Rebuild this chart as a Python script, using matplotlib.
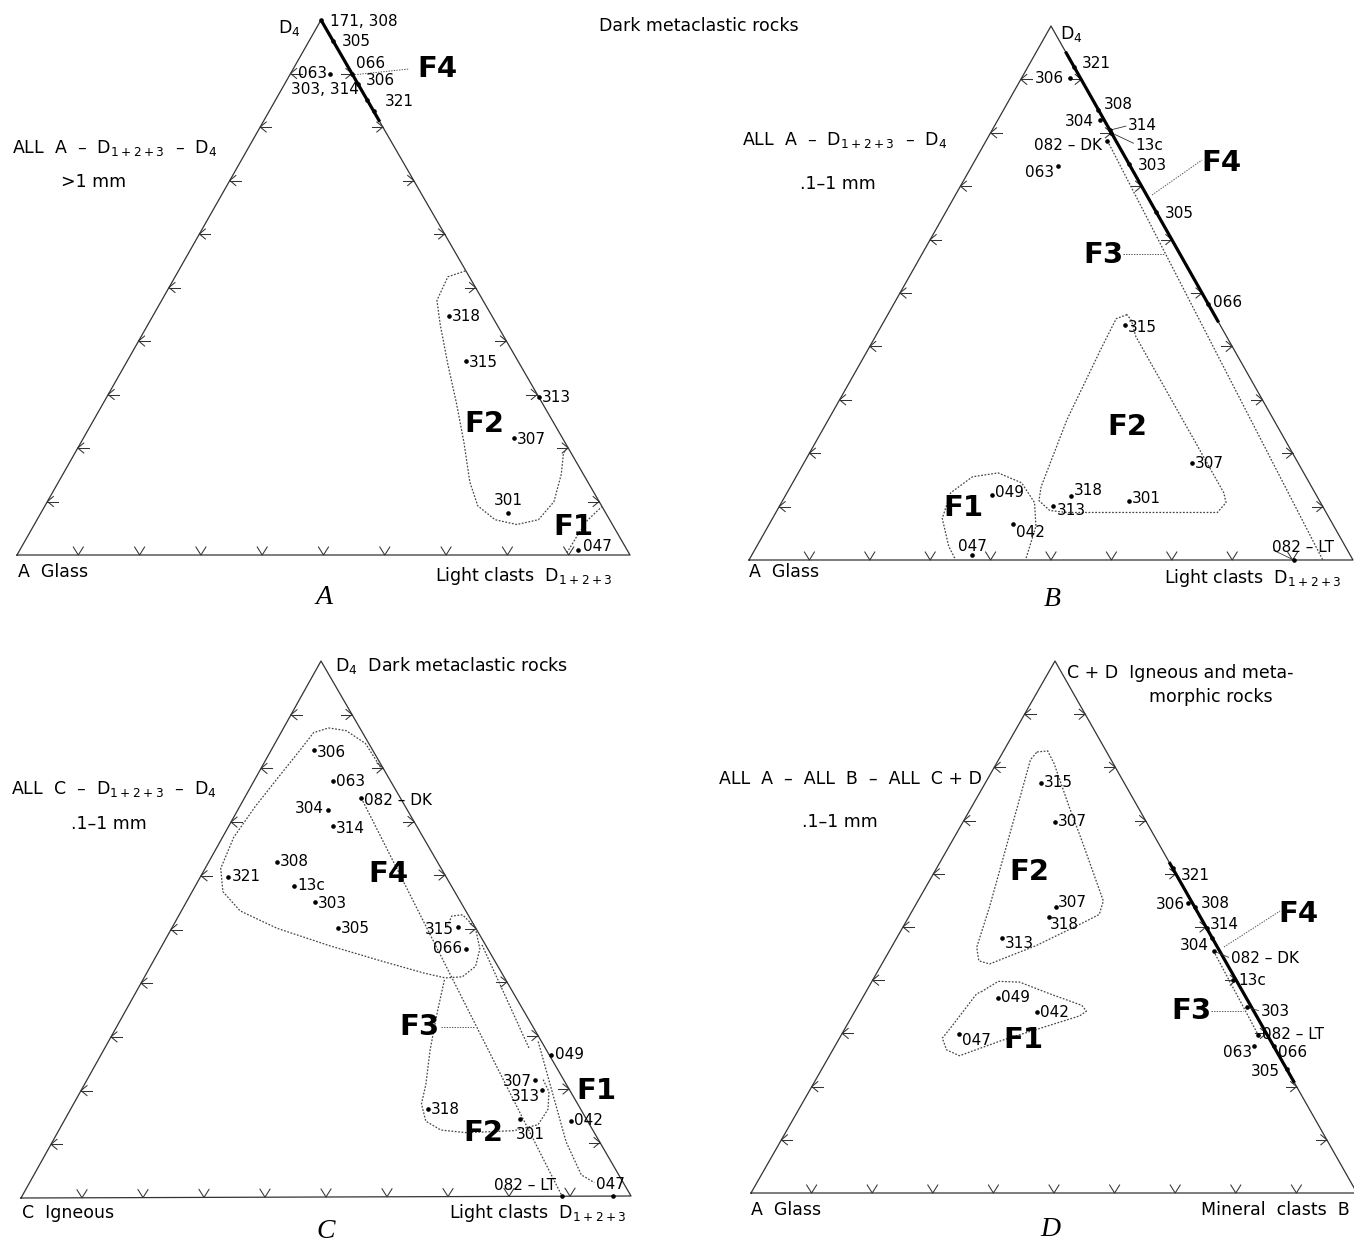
import numpy as np
import matplotlib.pyplot as plt

plt.rcParams['font.family'] = ['DejaVu Sans']
plt.rcParams['mathtext.fontset'] = 'dejavusans'

# ---------------- data: compositions in percent ----------------
# each point: share of the right-hand corner and of the top corner (rest = left corner)

# A  ALL A - D1+2+3 - D4, >1 mm
a_names = ['171, 308', '305', '066', '306', '303, 314', '321', '063',
           '318', '315', '313', '307', '301', '047']
a_right = [0, 4, 10, 12, 15, 17, 6.5, 48.3, 55.3, 70.5, 70.2, 76.2, 91]
a_top = [100, 96, 90, 88, 85, 83, 90, 44.7, 36.2, 29.5, 21.8, 7.8, 1]
a_f4_right = [0, 19]
a_f4_top = [100, 81]
a_f2_right = [46.8, 44.5, 44.9, 47.6, 52.5, 57.6, 62.5, 67.1, 70.6, 74.7, 78.7,
              81.8, 82.65, 81.3, 79.8, 79.7]
a_f2_top = [53.1, 52.0, 47.6, 43.2, 35.8, 28.4, 21.0, 13.65, 9.2, 6.6, 5.7,
            6.6, 9.96, 15.1, 18.8, 19.9]
a_f1_right = [89.5, 89.6, 89.8, 90.9]
a_f1_top = [0.4, 3.6, 6.4, 9.0]

# B  ALL A - D1+2+3 - D4, .1-1 mm
b_names = ['321', '306', '308', '304', '314', '13c', '082 – DK', '063', '303', '305',
           '066', '315', '307', '318', '301', '313', '049', '042', '047', '082 – LT']
b_right = [7.6, 8.05, 15.7, 16.9, 19.5, 20.0, 20.1, 14.3, 25.8, 34.8,
           52.0, 40.3, 64.2, 47.4, 57.4, 45.3, 34.1, 40.4, 36.5, 90.2]
b_top = [92.4, 90.2, 84.3, 82.4, 80.5, 80.0, 78.5, 73.75, 74.2, 65.2,
         48.0, 44.0, 18.2, 11.9, 11.1, 10.2, 12.2, 6.7, 1.0, 0.0]
b_f4_right = [4.8, 55.5]
b_f4_top = [95.2, 44.5]
b_f3_right = [20.1, 95.0]
b_f3_top = [78.5, 0.0]
b_f2_right = [39.6, 38.2, 38.5, 39.5, 41.5, 42.45, 45.15, 48.2, 73.1, 73.6, 72.3,
              63.06, 43.1, 40.9, 39.6]
b_f2_top = [45.95, 45.2, 39.66, 26.31, 13.73, 11.12, 9.27, 8.9, 8.9, 10.75, 12.6,
            21.87, 41.87, 44.85, 45.95]
b_f1_right = [45.7, 44.35, 41.9, 37.9, 33.1, 29.2, 27.1, 28.1, 31.76, 34.0]
b_f1_top = [0.37, 6.31, 10.75, 14.46, 16.31, 15.58, 12.6, 7.79, 2.6, 0.22]

# C  ALL C - D1+2+3 - D4, .1-1 mm
c_names = ['306', '063', '082 – DK', '304', '314', '308', '321', '13c', '303', '305',
           '315', '066', '049', '307', '313', '301', '318', '042', '082 – LT', '047']
c_right = [7.0, 13.0, 19.2, 14.9, 17.1, 11.2, 4.6, 16.2, 21.1, 27.2,
           46.9, 50.2, 73.9, 73.6, 75.7, 74.8, 58.7, 83.2, 88.7, 97.0]
c_top = [83.4, 77.6, 74.4, 72.2, 69.3, 62.5, 59.8, 58.1, 55.0, 50.2,
         50.2, 46.2, 26.4, 21.7, 19.9, 14.4, 16.3, 14.1, 0.0, 0.0]
c_f4_right = [19.53, 14.85, 10.5, 7.4, 5.36, 4.66, 3.59, 2.55, 1.84, 2.56, 5.04, 9.65,
              17.26, 27.36, 37.28, 45.5, 49.5, 52.2, 53.4, 52.5, 49.8, 46.54, 44.88, 45.06]
c_f4_top = [80.14, 84.6, 87.0, 87.5, 86.64, 83.0, 78.0, 72.9, 67.15, 61.37, 57.04, 53.43,
            50.18, 46.93, 44.04, 41.73, 40.8, 41.0, 42.96, 46.2, 50.18, 52.56, 52.35, 50.54]
c_f3_right = [19.2, 88.7]
c_f3_top = [74.4, 0.0]
c_f2_right = [49.53, 51.24, 53.58, 56.07, 57.13, 59.44, 62.73, 67.23, 74.84, 78.2,
              78.41, 76.96, 74.66]
c_f2_top = [40.43, 34.66, 27.44, 20.94, 17.33, 14.08, 12.42, 11.91, 12.27, 13.36,
            16.25, 19.5, 22.02]
c_f1a_right = [52.5, 69.87]
c_f1a_top = [46.93, 27.44]
c_f1b_right = [70.58, 78.02, 84.4, 89.9, 92.74]
c_f1b_top = [28.88, 18.77, 10.11, 3.97, 2.53]

# D  ALL A - ALL B - ALL C+D, .1-1 mm
d_names = ['315', '307', '307', '318', '313', '049', '042', '047', '321', '306',
           '308', '314', '304', '082 – DK', '13c', '303', '082 – LT', '063', '066', '305']
d_right = [9.1, 15.2, 23.4, 23.2, 17.3, 22.4, 30.1, 19.3, 39.0, 44.7,
           46.2, 50.2, 52.0, 53.5, 59.4, 64.4, 68.8, 69.1, 72.4, 76.7]
d_top = [77.1, 69.8, 53.8, 51.8, 48.0, 36.7, 34.0, 29.8, 61.0, 54.5,
         53.8, 49.8, 48.0, 45.5, 40.0, 34.9, 29.7, 27.6, 27.6, 23.3]
d_f4_right = [37.8, 79.3]
d_f4_top = [62.2, 20.7]
d_f3_right = [53.5, 68.8]
d_f3_top = [45.5, 29.7]
d_f2_right = [5.6, 7.27, 9.54, 16.0, 21.4, 30.6, 31.2, 29.43, 23.8, 17.77, 15.7,
              14.08, 12.38, 7.88, 5.26, 5.6]
d_f2_top = [82.9, 83.1, 80.7, 72.7, 66.2, 54.9, 52.36, 50.9, 46.55, 43.05, 43.64,
            46.18, 53.8, 71.27, 81.45, 82.9]
d_f1_right = [19.0, 20.84, 24.45, 30.5, 36.9, 38.2, 37.55, 32.9, 27.1, 21.46, 18.78,
              16.97, 17.47, 18.45, 19.0]
d_f1_top = [37.8, 39.78, 39.64, 37.45, 35.27, 34.18, 33.3, 31.27, 28.73, 25.8, 26.9,
            29.1, 31.64, 37.45, 37.8]

# ---------------- layout ----------------
W, H = 1354, 1247
# left, right, top corner of every triangle on the page (px)
CORNERS = {
    'A': ((17, 555), (630, 555), (321, 20)),
    'B': ((749, 560), (1353, 560), (1051, 26)),
    'C': ((21, 1198), (631, 1196), (321, 661)),
    'D': ((751, 1193), (1357, 1193), (1055, 661)),
}
# label offsets (dx, dy, ha) for each point
a_off = [(9, 1, 'left'), (8, 0, 'left'), (4, -10, 'left'), (8, -4, 'left'),
         (-8, -11, 'right'), (11, -9, 'left'), (-3, 0, 'right'), (3, 1, 'left'),
         (3, 1, 'left'), (3, 0, 'left'), (3, 1, 'left'), (0, -13, 'center'), (5, -3, 'left')]
b_off = [(8, -3, 'left'), (-6, 0, 'right'), (5, -5, 'left'), (-6, 2, 'right'),
         (18, -5, 'left'), (24, 13, 'left'), (-5, 5, 'right'), (-4, 6, 'right'),
         (9, 2, 'left'), (9, 2, 'left'), (5, -1, 'left'), (3, 2, 'left'), (3, 1, 'left'),
         (3, -6, 'left'), (3, -2, 'left'), (3, 5, 'left'), (3, -2, 'left'), (3, 8, 'left'),
         (0, -8, 'center'), (-22, -12, 'left')]
c_off = [(3, 2, 'left'), (3, 0, 'left'), (3, 2, 'left'), (-5, -1, 'right'), (3, 3, 'left'),
         (3, -1, 'left'), (3, 0, 'left'), (3, 0, 'left'), (3, 1, 'left'), (3, 1, 'left'),
         (-4, 2, 'right'), (-4, 0, 'right'), (4, 0, 'left'), (-3, 2, 'right'),
         (-3, 7, 'right'), (10, 15, 'center'), (3, 0, 'left'), (3, 0, 'left'),
         (-6, -11, 'right'), (-2, -12, 'center')]
d_off = [(3, 0, 'left'), (3, 0, 'left'), (1, -4, 'left'), (1, 7, 'left'), (3, 6, 'left'),
         (3, 0, 'left'), (3, 0, 'left'), (3, 6, 'left'), (8, 7, 'left'), (-3, 1, 'right'),
         (6, -3, 'left'), (3, -4, 'left'), (-3, 8, 'right'), (17, 8, 'left'), (6, 0, 'left'),
         (13, 4, 'left'), (4, 0, 'left'), (-2, 6, 'right'), (4, 6, 'left'), (-7, 2, 'right')]

LINE = '#333333'
DOT = (0, (1.4, 1.3))
FS = 12.5      # captions
FN = 11        # point labels


def to_xy(p, right, top):
    (lx, ly), (rx, ry), (tx, ty) = CORNERS[p]
    b = np.asarray(right, float) / 100
    c = np.asarray(top, float) / 100
    a = 1 - b - c
    return a * lx + b * rx + c * tx, a * ly + b * ry + c * ty


def frame(ax, p):
    L, R, T = [np.array(v, float) for v in CORNERS[p]]
    ax.plot([L[0], R[0], T[0], L[0]], [L[1], R[1], T[1], L[1]], color=LINE, lw=0.9)
    kw = dict(color=LINE, lw=0.75)
    for k in range(1, 10):
        f = k / 10
        q = L + f * (R - L)
        ax.plot([q[0] - 5, q[0], q[0] + 5], [q[1] - 8, q[1], q[1] - 8], **kw)
        q = L + f * (T - L)
        ax.plot([q[0] + 6, q[0], q[0] + 6], [q[1] - 5, q[1], q[1] + 5], **kw)
        ax.plot([q[0], q[0] + 11], [q[1], q[1]], **kw)
        q = R + f * (T - R)
        ax.plot([q[0] - 6, q[0], q[0] - 6], [q[1] - 5, q[1], q[1] + 5], **kw)
        ax.plot([q[0] - 11, q[0]], [q[1], q[1]], **kw)


def points(ax, p, names, right, top, offs):
    x, y = to_xy(p, right, top)
    ax.plot(x, y, 'o', ms=2.3, color='k', zorder=5)
    for n, xi, yi, (dx, dy, ha) in zip(names, x, y, offs):
        ax.text(xi + dx, yi + dy, n, ha=ha, va='center', fontsize=FN)
        if abs(dx) > 12:
            ax.plot([xi, xi + dx - 2 * np.sign(dx)], [yi, yi + dy * 0.8], color=LINE, lw=0.6)


def outline(ax, p, right, top, thick=False):
    x, y = to_xy(p, right, top)
    if thick:
        ax.plot(x, y, color='k', lw=2.3, solid_capstyle='butt')
    else:
        ax.plot(x, y, color='#444444', lw=0.9, ls=DOT)


def flabel(ax, x, y, s):
    ax.text(x, y, s, ha='center', va='center', fontsize=21, fontweight='bold')


def leader(ax, x0, y0, x1, y1):
    ax.plot([x0, x1], [y0, y1], color='#555555', lw=0.7, ls=DOT)


def letter(ax, x, y, s):
    ax.text(x, y, s, ha='center', va='center', fontsize=20, style='italic',
            family='Liberation Serif')


def caption(ax, x, y, s, **kw):
    ax.text(x, y, s, va='center', fontsize=FS, **kw)


fig = plt.figure(figsize=(W / 100, H / 100), dpi=100)
ax = fig.add_axes([0, 0, 1, 1])
ax.set_xlim(0, W)
ax.set_ylim(H, 0)
ax.axis('off')

D123 = r'D$_{1+2+3}$'
D4 = r'D$_4$'

# ---- A ----
frame(ax, 'A')
outline(ax, 'A', a_f4_right, a_f4_top, thick=True)
outline(ax, 'A', a_f2_right, a_f2_top)
outline(ax, 'A', a_f1_right, a_f1_top)
points(ax, 'A', a_names, a_right, a_top, a_off)
caption(ax, 289, 28, D4, ha='center')
caption(ax, 699, 26, 'Dark metaclastic rocks', ha='center')
caption(ax, 12, 148, 'ALL  A  –  ' + D123 + '  –  ' + D4)
caption(ax, 61, 182, '>1 mm')
caption(ax, 18, 572, 'A  Glass')
caption(ax, 435, 576, 'Light clasts  ' + D123)
letter(ax, 324, 598, 'A')
leader(ax, 352, 75, 409, 69)
flabel(ax, 437, 69, 'F4')
flabel(ax, 484, 424, 'F2')
flabel(ax, 573, 527, 'F1')

# ---- B ----
frame(ax, 'B')
outline(ax, 'B', b_f4_right, b_f4_top, thick=True)
outline(ax, 'B', b_f3_right, b_f3_top)
outline(ax, 'B', b_f2_right, b_f2_top)
outline(ax, 'B', b_f1_right, b_f1_top)
points(ax, 'B', b_names, b_right, b_top, b_off)
caption(ax, 1060, 34, D4)
caption(ax, 742, 140, 'ALL  A  –  ' + D123 + '  –  ' + D4)
caption(ax, 800, 184, '.1–1 mm')
caption(ax, 749, 572, 'A  Glass')
caption(ax, 1164, 578, 'Light clasts  ' + D123)
letter(ax, 1052, 600, 'B')
leader(ax, 1152, 195, 1202, 160)
leader(ax, 1123, 254, 1165, 254)
flabel(ax, 1221, 163, 'F4')
flabel(ax, 1103, 255, 'F3')
flabel(ax, 1127, 427, 'F2')
flabel(ax, 963, 508, 'F1')

# ---- C ----
frame(ax, 'C')
outline(ax, 'C', c_f4_right, c_f4_top)
outline(ax, 'C', c_f3_right, c_f3_top)
outline(ax, 'C', c_f2_right, c_f2_top)
outline(ax, 'C', c_f1a_right, c_f1a_top)
outline(ax, 'C', c_f1b_right, c_f1b_top)
points(ax, 'C', c_names, c_right, c_top, c_off)
caption(ax, 335, 665, D4 + '  Dark metaclastic rocks')
caption(ax, 11, 789, 'ALL  C  –  ' + D123 + '  –  ' + D4)
caption(ax, 71, 824, '.1–1 mm')
caption(ax, 22, 1213, 'C  Igneous')
caption(ax, 449, 1213, 'Light clasts  ' + D123)
letter(ax, 326, 1232, 'C')
leader(ax, 441, 1027, 475, 1027)
flabel(ax, 388, 874, 'F4')
flabel(ax, 419, 1027, 'F3')
flabel(ax, 483, 1133, 'F2')
flabel(ax, 596, 1091, 'F1')

# ---- D ----
frame(ax, 'D')
outline(ax, 'D', d_f4_right, d_f4_top, thick=True)
outline(ax, 'D', d_f3_right, d_f3_top)
outline(ax, 'D', d_f2_right, d_f2_top)
outline(ax, 'D', d_f1_right, d_f1_top)
points(ax, 'D', d_names, d_right, d_top, d_off)
caption(ax, 1067, 673, 'C + D  Igneous and meta-')
caption(ax, 1149, 697, 'morphic rocks')
caption(ax, 719, 779, 'ALL  A  –  ALL  B  –  ALL  C + D')
caption(ax, 802, 822, '.1–1 mm')
caption(ax, 751, 1210, 'A  Glass')
caption(ax, 1350, 1210, 'Mineral  clasts  B', ha='right')
letter(ax, 1050, 1230, 'D')
leader(ax, 1224, 947, 1280, 911)
leader(ax, 1211, 1011, 1243, 1011)
flabel(ax, 1029, 872, 'F2')
flabel(ax, 1023, 1040, 'F1')
flabel(ax, 1298, 914, 'F4')
flabel(ax, 1191, 1011, 'F3')

fig.savefig('out.png', dpi=100, facecolor='white')
